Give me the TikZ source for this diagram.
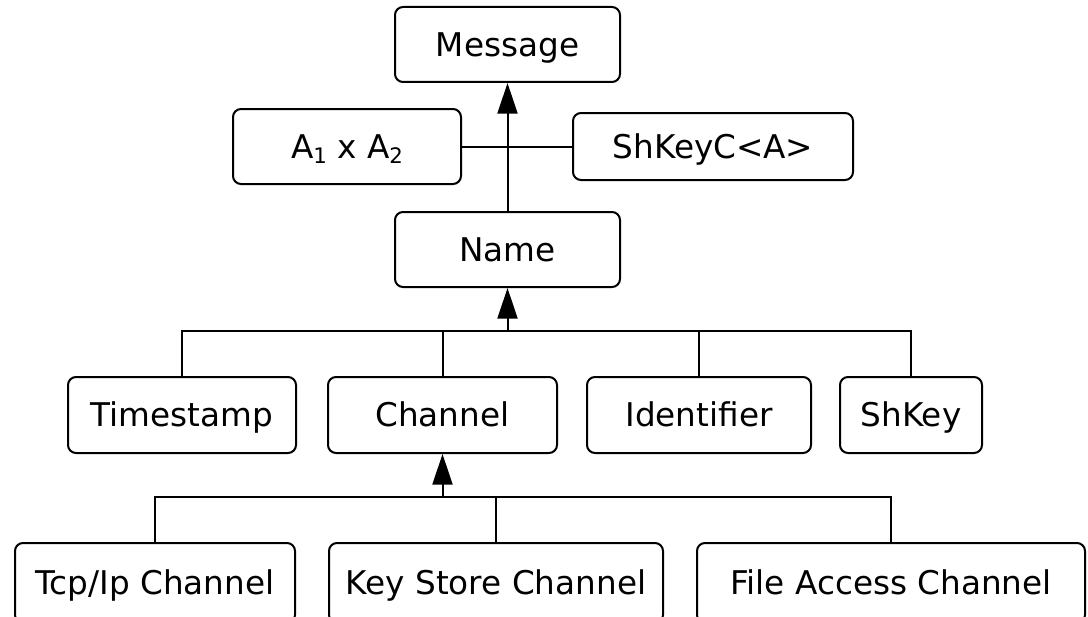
\documentclass[tikz,border=0pt]{standalone}
\usepackage{fontspec}
\setmainfont{DejaVu Sans}
\usetikzlibrary{positioning, arrows.meta, calc}

\tikzset{
  cls/.style={draw, rounded corners=6pt, line width=1.5pt, inner sep=0pt,
    text height=23.9pt, text depth=6pt,
    minimum height=56.25pt, font=\fontsize{24.5}{28}\selectfont},
  inherit/.style={line width=1.5pt, -{Triangle[width=15pt,length=23pt]}},
  link/.style={line width=1.5pt}
}

\begin{document}
\begin{tikzpicture}[x=0.75pt, y=-0.75pt]
  \useasboundingbox (0,0) rectangle (1088,617);
  % top of the hierarchy
  \node[cls, minimum width=168.75pt] (msg) at (507.5,44.5) {Message};
  \node[cls, minimum width=171pt] (a12) at (347,146.5) {A{\fontsize{16}{18}\selectfont\raisebox{-0.45ex}{1}} x A{\fontsize{16}{18}\selectfont\raisebox{-0.45ex}{2}}};
  \node[cls, minimum width=210pt, minimum height=50.25pt] (shkc) at (713,146.5) {ShKeyC<A>};
  \node[cls, minimum width=168.75pt] (name) at (507.5,249.5) {Name};
  % kinds of name
  \node[cls, minimum width=171pt, minimum height=57pt] (time) at (182,415) {Timestamp};
  \node[cls, minimum width=171.75pt, minimum height=57pt] (chan) at (442.5,415) {Channel};
  \node[cls, minimum width=168pt, minimum height=57pt] (ident) at (699,415) {Identifier};
  \node[cls, minimum width=106.5pt, minimum height=57pt] (shkey) at (911,415) {ShKey};
  % kinds of channel
  \node[cls, minimum width=210pt, minimum height=60pt] (tcp) at (155,583) {Tcp/Ip Channel};
  \node[cls, minimum width=250.5pt, minimum height=60pt] (kstore) at (496,583) {Key Store Channel};
  \node[cls, minimum width=291pt, minimum height=60pt] (faccess) at (891,583) {File Access Channel};

  \coordinate (bus1) at (507.5,331);
  \coordinate (bus2) at (442.5,497);

  \draw[inherit] (name) -- (msg);
  \draw[link] (a12.east) -- (shkc.west);

  \draw[link] (time.north) |- (bus1) -| (shkey.north);
  \draw[link] (chan.north) -- (chan.north |- bus1);
  \draw[link] (ident.north) -- (ident.north |- bus1);
  \draw[inherit] (bus1) -- (name);

  \draw[link] (tcp.north) |- (bus2) -| (faccess.north);
  \draw[link] (kstore.north) -- (kstore.north |- bus2);
  \draw[inherit] (bus2) -- (chan);
\end{tikzpicture}
\end{document}
